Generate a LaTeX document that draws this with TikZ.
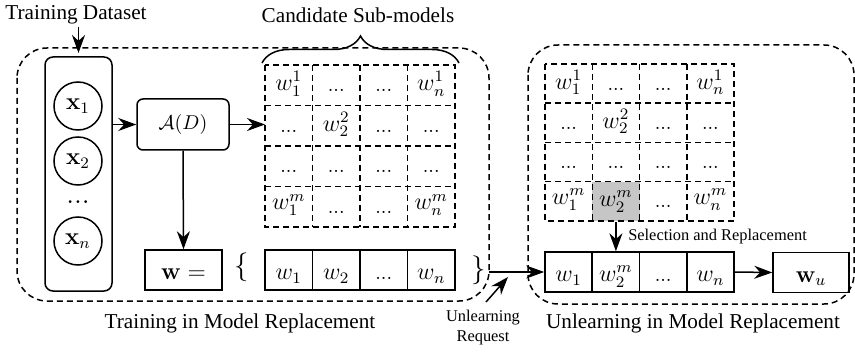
\documentclass[tikz,border=0pt]{standalone}
\usepackage{amsmath}
\usepackage{amssymb}
\usepackage[no-math]{fontspec}
\setmainfont{Liberation Serif}
\usepackage{tikz}
\usetikzlibrary{arrows.meta}
\usetikzlibrary{decorations.pathreplacing}
\tikzset{every picture/.style={line width=0.75pt}}
\tikzset{
  arr/.style={-{Stealth[length=9pt,width=6.5pt]}},
  dashbox/.style={dash pattern=on 3pt off 2pt},
  lbl/.style={inner sep=0.75pt,font=\fontsize{10.6}{12.7}\selectfont},
  smalllbl/.style={inner sep=0.75pt,font=\fontsize{8.2}{10}\selectfont,align=center},
  cell/.style={inner sep=0.75pt,font=\fontsize{12}{14}\selectfont},
  celldots/.style={inner sep=0.75pt,font=\fontsize{10}{12}\selectfont},
  vcell/.style={draw,inner sep=0pt,minimum width=23.7pt,minimum height=20pt,text height=12pt,text depth=2.5pt,font=\fontsize{12}{14}\selectfont},
}

\begin{document}
\begin{tikzpicture}[x=0.5pt,y=0.5pt,yscale=-1]
\useasboundingbox (0,0) rectangle (855,352);

%Shape: Rounded Rectangle (training)
\draw [dashbox, rounded corners=15pt] (17,48) rectangle (489,301) ;
%Shape: Rounded Rectangle (unlearning)
\draw [dashbox, rounded corners=15pt] (528,45) rectangle (854,304) ;

%Shape: Rounded Rectangle (dataset column)
\node [draw, rounded corners=4pt, minimum width=33.5pt, minimum height=117pt] (col) at (78.5,174) {};
%Shape: Circle
\node [draw, circle, minimum size=24pt, inner sep=0pt, font=\fontsize{12}{14}\selectfont] (x1) at (78,106) {$\mathbf{x}_1$};
%Shape: Circle
\node [draw, circle, minimum size=24pt, inner sep=0pt, font=\fontsize{12}{14}\selectfont] (x2) at (78,161) {$\mathbf{x}_2$};
%Shape: Circle
\node [draw, circle, minimum size=24pt, inner sep=0pt, font=\fontsize{12}{14}\selectfont] (xn) at (78,241) {$\mathbf{x}_n$};
% Text Node
\draw (78,202) node [inner sep=0.75pt, font=\fontsize{14}{16}\selectfont] (xdots) {$\mathbf{...}$};

%Shape: Rounded Rectangle (algorithm)
\node [draw, rounded corners=3pt, minimum width=46pt, minimum height=25.5pt, font=\fontsize{10}{12}\selectfont] (AD) at (183,124.5) {$\mathcal{A}(D)$};
%Shape: Rectangle
\node [vcell, minimum width=38.5pt] (weq) at (183.5,270) {$\mathbf{w} =$};

% Text Node
\draw (76,15) node [lbl] (tds) {Training Dataset};
% Text Node
\draw (358,15) node [lbl] (csm) {Candidate Sub-models};
% Text Node
\draw (240,323) node [lbl] (trl) {Training in Model Replacement};
% Text Node
\draw (693,323) node [lbl] (unl) {Unlearning in Model Replacement};
% Text Node
\draw (483,328) node [smalllbl] (ureq) {Unlearning\\Request};
% Text Node
\draw (626,237) node [smalllbl, anchor=west] (selr) {Selection and Replacement};

%Curve Lines (brace over candidates)
\draw [decorate, decoration={brace, amplitude=13.5pt}] (262,63) -- (459,63) ;

%Shape: Grid (candidate sub-models, training)
\draw [dashbox] (265,65) rectangle (455,227) ;
\draw [dashbox] (312.5,65) -- (312.5,227) ;
\draw [dashbox] (360,65) -- (360,227) ;
\draw [dashbox] (407.5,65) -- (407.5,227) ;
\draw [dashbox] (265,105.5) -- (455,105.5) ;
\draw [dashbox] (265,146) -- (455,146) ;
\draw [dashbox] (265,186.5) -- (455,186.5) ;

% Text Node
\draw (288.75,84) node [cell] (lm11) {$w_1^1$};
\draw (336.25,90.5) node [celldots] (lm12) {$...$};
\draw (383.75,90.5) node [celldots] (lm13) {$...$};
\draw (431.25,84) node [cell] (lm14) {$w_n^1$};
\draw (288.75,131) node [celldots] (lm21) {$...$};
\draw (336.25,124.5) node [cell] (lm22) {$w_2^2$};
\draw (383.75,131) node [celldots] (lm23) {$...$};
\draw (431.25,131) node [celldots] (lm24) {$...$};
\draw (288.75,171.5) node [celldots] (lm31) {$...$};
\draw (336.25,171.5) node [celldots] (lm32) {$...$};
\draw (383.75,171.5) node [celldots] (lm33) {$...$};
\draw (431.25,171.5) node [celldots] (lm34) {$...$};
\draw (288.75,205) node [cell] (lm41) {$w_1^m$};
\draw (336.25,212) node [celldots] (lm42) {$...$};
\draw (383.75,212) node [celldots] (lm43) {$...$};
\draw (431.25,205) node [cell] (lm44) {$w_n^m$};

%Shape: Rectangle (weights, training)
\draw (242,267) node [inner sep=1pt, font=\fontsize{14}{16}\selectfont] (lb) {$\{$};
\node [vcell] (lv1) at (288.75,270) {$w_1$};
\node [vcell] (lv2) at (336.25,270) {$w_2$};
\node [vcell] (lv3) at (383.75,270) {\fontsize{10}{12}\selectfont$...$};
\node [vcell] (lv4) at (431.25,270) {$w_n$};
\draw (479,270) node [inner sep=1pt, font=\fontsize{14}{16}\selectfont] (rb) {$\}$};

%Shape: Rectangle (selected cell)
\node [fill=gray!45, inner sep=0pt, minimum width=23.6pt, minimum height=19.6pt, font=\fontsize{12}{14}\selectfont] (rm42) at (615.9,201.4) {$w_2^m$};

%Shape: Grid (candidate sub-models, unlearning)
\draw [dashbox] (545,64) rectangle (734,221) ;
\draw [dashbox] (592.25,64) -- (592.25,221) ;
\draw [dashbox] (639.5,64) -- (639.5,221) ;
\draw [dashbox] (686.75,64) -- (686.75,221) ;
\draw [dashbox] (545,103.25) -- (734,103.25) ;
\draw [dashbox] (545,142.5) -- (734,142.5) ;
\draw [dashbox] (545,181.75) -- (734,181.75) ;

% Text Node
\draw (568.6,82.5) node [cell] (rm11) {$w_1^1$};
\draw (615.9,89) node [celldots] (rm12) {$...$};
\draw (663.1,89) node [celldots] (rm13) {$...$};
\draw (710.4,82.5) node [cell] (rm14) {$w_n^1$};
\draw (568.6,128.5) node [celldots] (rm21) {$...$};
\draw (615.9,121.5) node [cell] (rm22) {$w_2^2$};
\draw (663.1,128.5) node [celldots] (rm23) {$...$};
\draw (710.4,128.5) node [celldots] (rm24) {$...$};
\draw (568.6,167.5) node [celldots] (rm31) {$...$};
\draw (615.9,167.5) node [celldots] (rm32) {$...$};
\draw (663.1,167.5) node [celldots] (rm33) {$...$};
\draw (710.4,167.5) node [celldots] (rm34) {$...$};
\draw (568.6,199.5) node [cell] (rm41) {$w_1^m$};
\draw (663.1,206.5) node [celldots] (rm43) {$...$};
\draw (710.4,199.5) node [cell] (rm44) {$w_n^m$};

%Shape: Rectangle (weights, unlearning)
\node [vcell] (rv1) at (568.6,272) {$w_1$};
\node [vcell] (rv2) at (615.9,272) {$w_2^m$};
\node [vcell] (rv3) at (663.1,272) {\fontsize{10}{12}\selectfont$...$};
\node [vcell] (rv4) at (710.4,272) {$w_n$};
\node [vcell, minimum width=38pt] (wu) at (811,272.5) {$\mathbf{w}_u$};

\coordinate (colin) at (78.5,53) ;
\coordinate (lmin) at (265,124.5) ;
\coordinate (urtail) at (486,302) ;
\coordinate (urhead) at (508,277) ;

%Straight Lines
\draw [arr] (tds.south -| colin) -- (colin) ;
%Straight Lines
\draw [arr] (col.east |- AD.west) -- (AD.west) ;
%Straight Lines
\draw [arr] (AD.east) -- (lmin) ;
%Straight Lines
\draw [arr] (AD.south) -- (weq.north) ;
%Straight Lines
\draw [arr] (rb.east |- rv1.west) -- (rv1.west) ;
%Straight Lines
\draw [arr] (urtail) -- (urhead) ;
%Straight Lines
\draw [arr] (rm42.south) -- (rv2.north) ;
%Straight Lines
\draw [arr] (rv4.east) -- (wu.west) ;

\end{tikzpicture}
\end{document}
